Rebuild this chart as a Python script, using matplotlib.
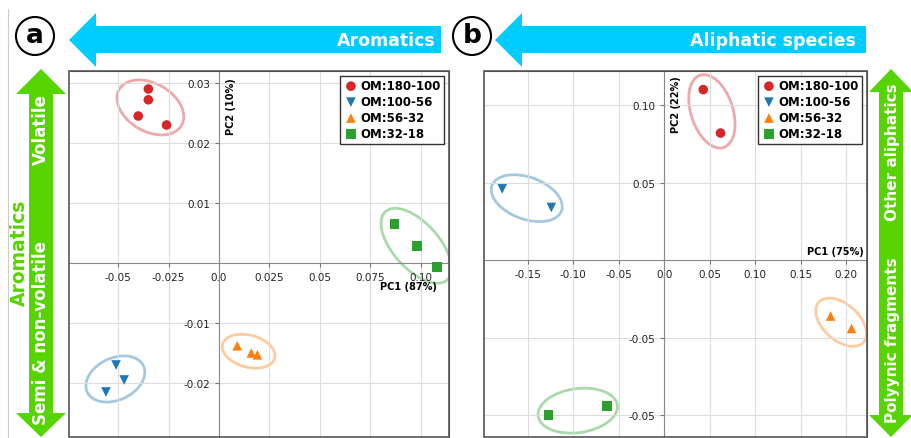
import matplotlib.pyplot as plt
import matplotlib.transforms as mtransforms
from matplotlib.patches import Polygon, Ellipse, Rectangle
import numpy as np

W, H = 912, 439
groups = ["OM:180-100", "OM:100-56", "OM:56-32", "OM:32-18"]
colors = ["#d62728", "#1f77b4", "#ff7f0e", "#2ca02c"]
markers = ["o", "v", "^", "s"]

# panel a scores
a_x = [[-0.035, -0.035, -0.040, -0.026], [-0.051, -0.047, -0.056],
       [0.009, 0.016, 0.019], [0.087, 0.098, 0.108]]
a_y = [[0.029, 0.0272, 0.0245, 0.023], [-0.017, -0.0195, -0.0215],
       [-0.0138, -0.015, -0.0153], [0.0065, 0.0028, -0.0007]]
# panel b scores
b_x = [[0.043, 0.062], [-0.178, -0.124], [0.183, 0.206], [-0.127, -0.063]]
b_y = [[0.110, 0.082], [0.046, 0.034], [-0.036, -0.044], [-0.100, -0.094]]

a_xticks = [-0.05, -0.025, 0.0, 0.025, 0.05, 0.075, 0.10]
a_xlabels = ["-0.05", "-0.025", "0.0", "0.025", "0.05", "0.075", "0.10"]
a_yticks = [-0.02, -0.01, 0.01, 0.02, 0.03]
a_ylabels = ["-0.02", "-0.01", "0.01", "0.02", "0.03"]
b_xticks = [-0.15, -0.10, -0.05, 0.0, 0.05, 0.10, 0.15, 0.20]
b_xlabels = ["-0.15", "-0.10", "-0.05", "0.0", "0.05", "0.10", "0.15", "0.20"]
b_yticks = [-0.10, -0.05, 0.05, 0.10]
b_ylabels = ["-0.05", "-0.05", "0.05", "0.10"]

# ellipses (pixel width, height, angle)
a_ell = [(72, 48, -30), (62, 42, 25), (54, 32, -15), (92, 46, -48)]
b_ell = [(76, 42, -72), (74, 42, -20), (60, 36, -42), (80, 44, 8)]

fig = plt.figure(figsize=(W / 100, H / 100), dpi=100)


def fx(px):
    return px / W


def fy(py):
    return 1 - py / H


def poly(pts, color):
    fig.patches.append(Polygon([(fx(x), fy(y)) for x, y in pts], closed=True,
                               transform=fig.transFigure, facecolor=color,
                               edgecolor="none"))


def make_axes(l, t, r, b):
    return fig.add_axes([fx(l), fy(b), fx(r) - fx(l), fy(t) - fy(b)])


def setup(ax, xs, ys, xlim, ylim, xt, xl, yt, yl, ells):
    for i in range(4):
        ax.scatter(xs[i], ys[i], c=colors[i], marker=markers[i], s=48,
                   label=groups[i], zorder=3, edgecolors="none")
        w, h, ang = ells[i]
        cx, cy = np.mean(xs[i]), np.mean(ys[i])
        tr = fig.dpi_scale_trans + mtransforms.ScaledTranslation(cx, cy, ax.transData)
        ax.add_patch(Ellipse((0, 0), w / 100, h / 100, angle=ang, transform=tr,
                             fill=False, edgecolor=colors[i], alpha=0.4, lw=2))
    ax.set_xlim(*xlim)
    ax.set_ylim(*ylim)
    ax.set_xticks(xt, xl)
    ax.set_yticks(yt, yl)
    ax.tick_params(labelsize=7.5, length=3, color="#777777", labelcolor="#222222")
    ax.grid(True, color="#dddddd", lw=0.8)
    for s in ["left", "bottom"]:
        ax.spines[s].set_position("zero")
        ax.spines[s].set_color("#888888")
    for s in ["top", "right"]:
        ax.spines[s].set_color("#555555")
    ax.add_patch(Rectangle((0, 0), 1, 1, transform=ax.transAxes, fill=False,
                           edgecolor="#555555", lw=1.2, clip_on=False, zorder=5))
    leg = ax.legend(loc="upper right", prop={"weight": "bold", "size": 8.5},
                    fancybox=False, edgecolor="#333333", handletextpad=0.2,
                    borderpad=0.3, labelspacing=0.25, handlelength=1.2,
                    borderaxespad=0.4, framealpha=1)
    leg.get_frame().set_linewidth(1)


# panel a
axa = make_axes(69, 72, 449, 438)
setup(axa, a_x, a_y, (-0.0743, 0.1139), (-0.029, 0.032),
      a_xticks, a_xlabels, a_yticks, a_ylabels, a_ell)
axa.text(0.108, -0.003, "PC1 (87%)", fontsize=7, weight="bold", ha="right", va="top")
axa.text(0.0035, 0.031, "PC2 (10%)", fontsize=7, weight="bold", rotation=90,
         ha="left", va="top")

# panel b
axb = make_axes(484, 72, 867, 438)
setup(axb, b_x, b_y, (-0.198, 0.223), (-0.114, 0.122),
      b_xticks, b_xlabels, b_yticks, b_ylabels, b_ell)
axb.text(0.219, 0.003, "PC1 (75%)", fontsize=7, weight="bold", ha="right", va="bottom")
axb.text(0.008, 0.119, "PC2 (22%)", fontsize=7, weight="bold", rotation=90,
         ha="left", va="top")

cyan = "#00ccff"
green = "#55d400"
# horizontal arrows
poly([(69, 41), (96, 14), (96, 27), (441, 27), (441, 54), (96, 54), (96, 68)], cyan)
fig.text(fx(436), fy(41), "Aromatics", color="white", weight="bold", fontsize=12.5,
         ha="right", va="center")
poly([(495, 41), (522, 14), (522, 27), (866, 27), (866, 54), (522, 54), (522, 68)], cyan)
fig.text(fx(856), fy(41), "Aliphatic species", color="white", weight="bold",
         fontsize=12.5, ha="right", va="center")

# vertical double arrows
poly([(41, 70), (66, 95), (53, 95), (53, 414), (66, 414), (41, 438), (16, 414),
      (29, 414), (29, 95), (16, 95)], green)
fig.text(fx(41), fy(130), "Volatile", color="white", weight="bold", fontsize=12,
         rotation=90, ha="center", va="center")
fig.text(fx(41), fy(333), "Semi & non-volatile", color="white", weight="bold",
         fontsize=12, rotation=90, ha="center", va="center")
fig.text(fx(19), fy(253), "Aromatics", color=green, fontsize=13.5, weight="bold",
         rotation=90, ha="center", va="center")
poly([(891, 70), (913, 93), (903, 93), (903, 416), (913, 416), (891, 438), (869, 416),
      (879, 416), (879, 93), (869, 93)], green)
fig.text(fx(893), fy(152), "Other aliphatics", color="white", weight="bold",
         fontsize=11, rotation=90, ha="center", va="center")
fig.text(fx(893), fy(340), "Polyynic fragments", color="white", weight="bold",
         fontsize=11, rotation=90, ha="center", va="center")

# panel letters
for cx, letter in [(35, "a"), (472, "b")]:
    fig.patches.append(Ellipse((fx(cx), fy(37)), 38 / W, 38 / H,
                               transform=fig.transFigure, fill=False,
                               edgecolor="black", lw=1.5))
    fig.text(fx(cx), fy(36), letter, fontsize=19, weight="bold", ha="center",
             va="center")

fig.add_artist(plt.Line2D([fx(8), fx(8)], [0, fy(10)], color="#cccccc", lw=0.8,
                          transform=fig.transFigure))

fig.savefig("out.png", dpi=100)
